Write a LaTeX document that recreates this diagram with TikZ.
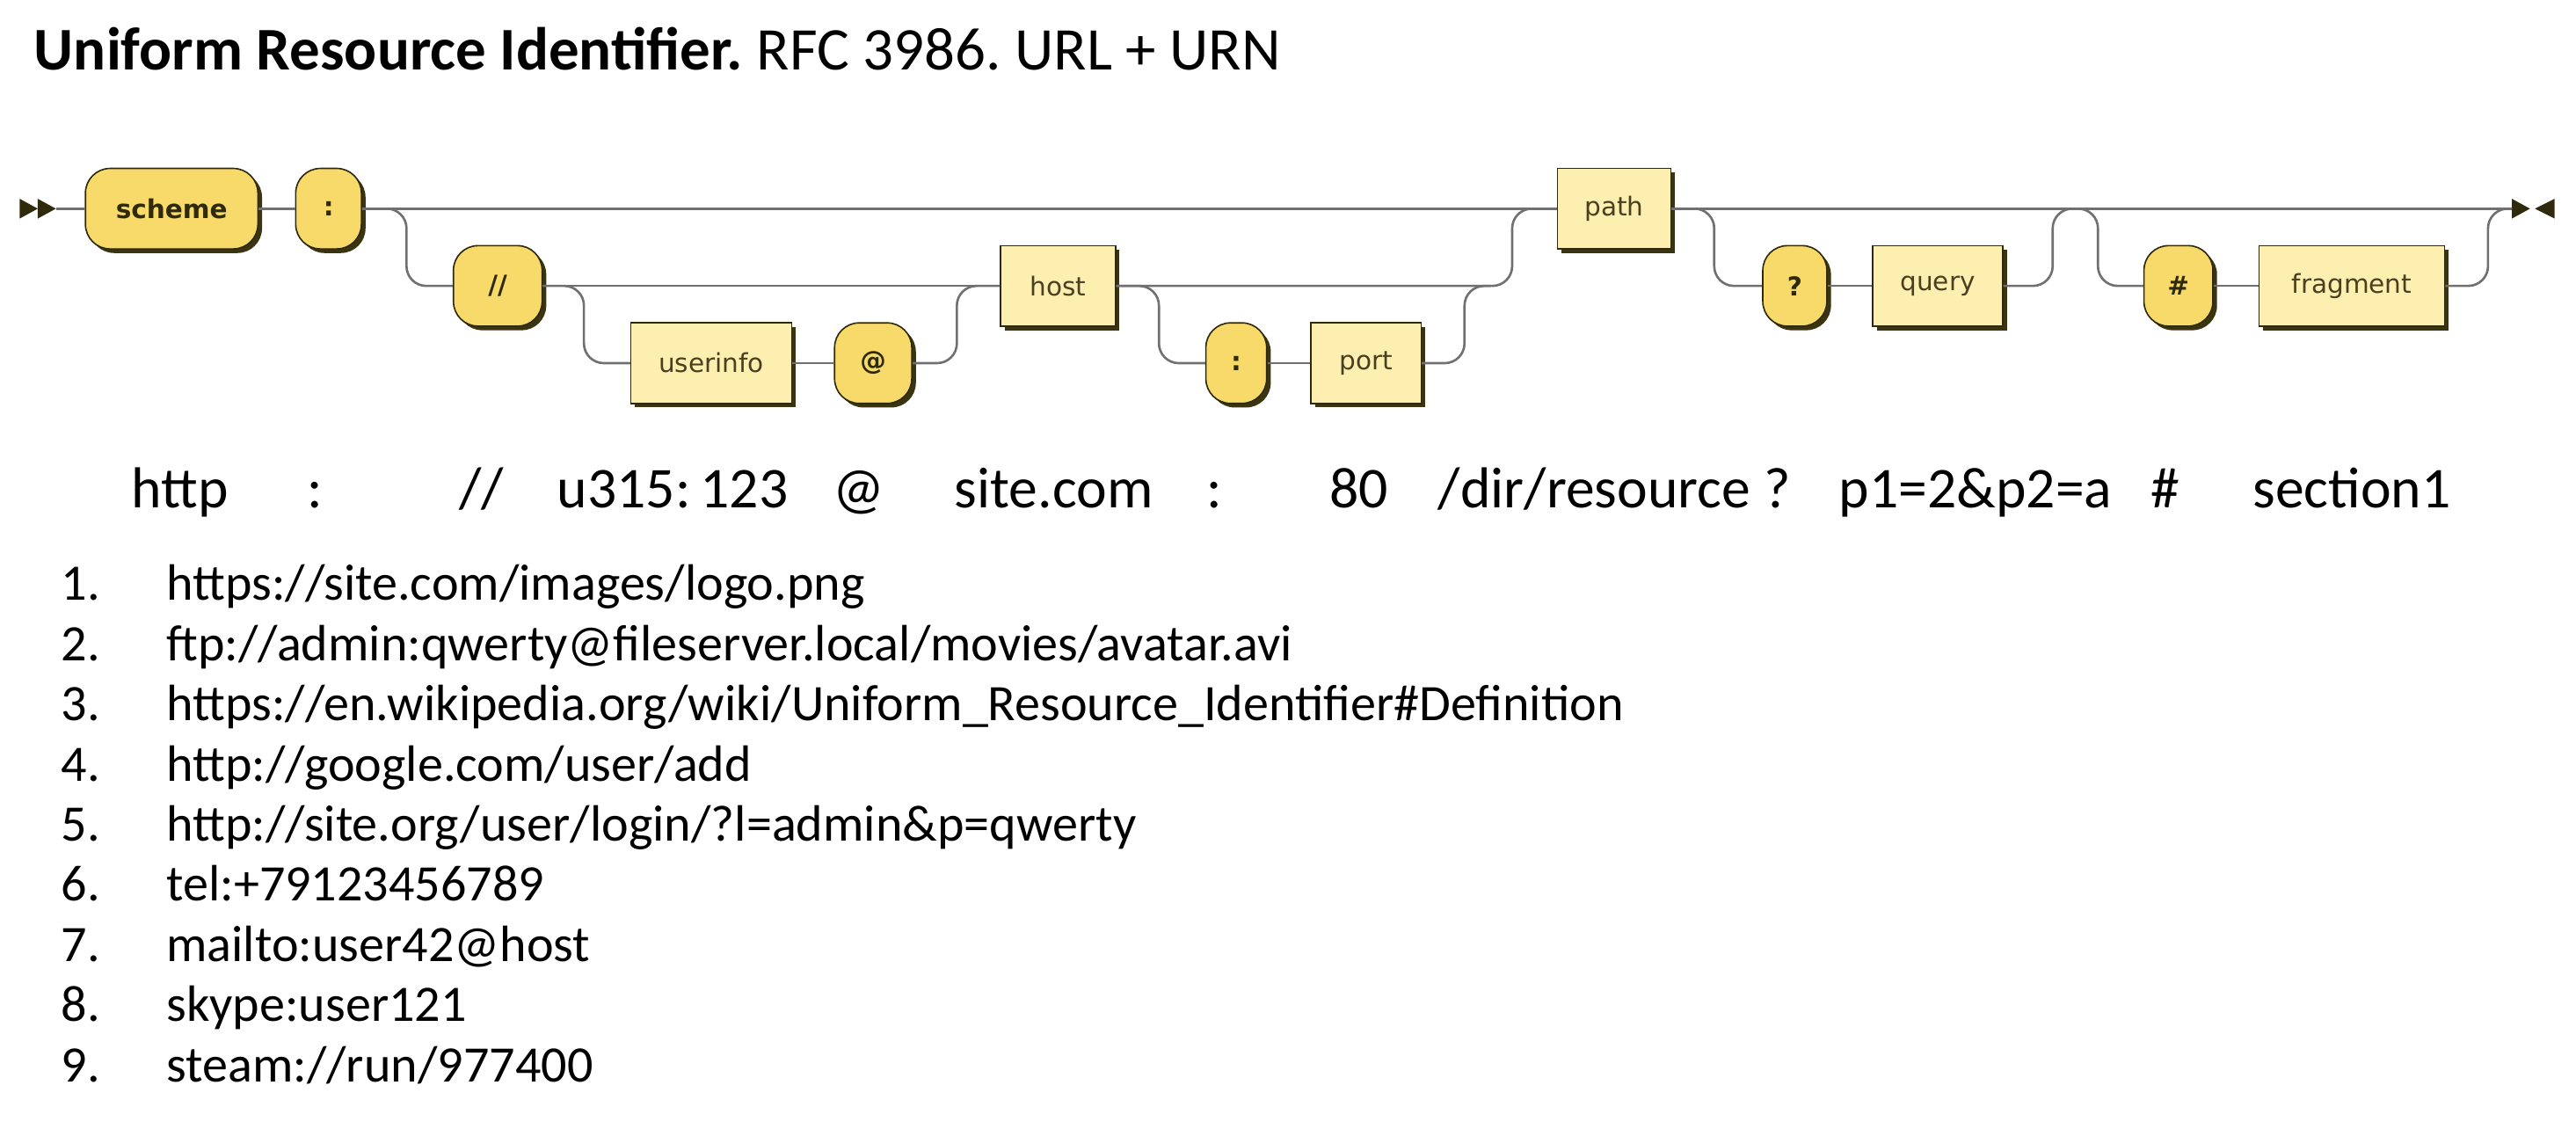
\documentclass[tikz,border=0pt]{standalone}
\usepackage{fontspec}
\setmainfont{Carlito}
\newfontfamily\railfont{DejaVu Sans}
\usepackage{tikz}
\usetikzlibrary{shadows,calc}
\frenchspacing

\definecolor{termfill}{HTML}{F8DA6A}
\definecolor{ntfill}{HTML}{FCEFB0}
\definecolor{boxedge}{HTML}{2F2A0C}
\definecolor{boxshadow}{HTML}{3A3410}
\definecolor{railgray}{HTML}{707070}
\definecolor{labeltext}{HTML}{4A4020}

\begin{document}
\begin{tikzpicture}[x=0.02cm, y=-0.02cm,
	rail/.style={draw=railgray, line width=0.8pt, rounded corners=0.24cm},
	railbox/.style={draw=boxedge, line width=0.5pt, minimum height=0.98cm, inner sep=0pt, drop shadow={shadow xshift=0.05cm, shadow yshift=-0.05cm, fill=boxshadow, opacity=1}},
	term/.style={railbox, fill=termfill, rounded corners=0.3cm, text=boxedge, font=\railfont\bfseries\fontsize{9}{10}\selectfont},
	nonterm/.style={railbox, fill=ntfill, text=labeltext, font=\railfont\fontsize{9}{10}\selectfont},
	endmark/.style={fill=boxedge},
	sample/.style={anchor=base, inner sep=0pt, font=\fontsize{20}{24}\selectfont},
	itemnum/.style={anchor=base west, inner sep=0pt, font=\fontsize{17.7}{21}\selectfont},
	itemtext/.style={anchor=base west, inner sep=0pt, font=\fontsize{17.7}{21}\selectfont}]
	\useasboundingbox (0,0) rectangle (1568,687);
	\node[anchor=base west, inner sep=0pt, font=\fontsize{21}{25}\selectfont] (title) at (20.5,42.8) {\textbf{Uniform Resource Identifier.} RFC 3986. URL + URN};

	\coordinate (start) at (34,127);
	\coordinate (finish) at (1529,127);
	\fill[endmark] (12,121) -- (12,133) -- (23,127) -- cycle;
	\fill[endmark] (23,121) -- (23,133) -- (34,127) -- cycle;
	\fill[endmark] (1529,121) -- (1529,133) -- (1540,127) -- cycle;
	\fill[endmark] (1555,121) -- (1555,133) -- (1543,127) -- cycle;

	\node[term, minimum width=2.1cm] (scheme) at (104.5,127) {scheme};
	\node[term, minimum width=0.8cm] (colon) at (200,127) {:};
	\node[term, minimum width=1.08cm] (slashes) at (303,174) {//};
	\node[nonterm, minimum width=1.96cm] (userinfo) at (433,221) {userinfo};
	\node[term, minimum width=0.94cm] (at) at (531.5,221) {@};
	\node[nonterm, minimum width=1.4cm] (host) at (644,174) {host};
	\node[term, minimum width=0.74cm] (portcolon) at (752.5,221) {:};
	\node[nonterm, minimum width=1.34cm] (port) at (831.5,221) {port};
	\node[nonterm, minimum width=1.38cm] (path) at (982.5,127) {path};
	\node[term, minimum width=0.78cm] (qmark) at (1092.5,174) {?};
	\node[nonterm, minimum width=1.58cm] (query) at (1179.5,174) {query};
	\node[term, minimum width=0.84cm] (hash) at (1326,174) {\#};
	\node[nonterm, minimum width=2.26cm] (fragment) at (1431.5,174) {fragment};
	\coordinate (fragsplit) at (1265,127);

	\draw[rail] (start) -- (scheme.west);
	\draw[rail] (scheme.east) -- (colon.west);
	\draw[rail] (colon.east) -- (path.west);
	\draw[rail] (colon.east) -- ++(27,0) |- (slashes.west);
	\draw[rail] (slashes.east) -- (host.west);
	\draw[rail] (slashes.east) -- ++(25,0) |- (userinfo.west);
	\draw[rail] (userinfo.east) -- (at.west);
	\draw[rail] (at.east) -- ++(27,0) |- (host.west);
	\draw[rail] (host.east) -- ++(241,0) |- (path.west);
	\draw[rail] (host.east) -- ++(26,0) |- (portcolon.west);
	\draw[rail] (portcolon.east) -- (port.west);
	\draw[rail] (port.east) -- ++(26,0) |- ++(16,-47);
	\draw[rail] (path.east) -- (finish);
	\draw[rail] (path.east) -- ++(26,0) |- (qmark.west);
	\draw[rail] (qmark.east) -- (query.west);
	\draw[rail] (query.east) -- ++(30,0) |- ++(16,-47);
	\draw[rail] (fragsplit) -- ++(12,0) |- (hash.west);
	\draw[rail] (hash.east) -- (fragment.west);
	\draw[rail] (fragment.east) -- ++(26,0) |- (finish);

	\node[sample] (exScheme) at (109.5,309) {http};
	\node[sample] (exColon) at (192,309) {:};
	\node[sample] (exSlashes) at (293,309) {//};
	\node[sample] (exUser) at (409.5,309) {u315:\,123};
	\node[sample] (exAt) at (523,309) {@};
	\node[sample] (exHost) at (641.5,309) {site.com};
	\node[sample] (exPortColon) at (739,309) {:};
	\node[sample] (exPort) at (827,309) {80};
	\node[sample] (exPath) at (970.5,309) {/dir/resource};
	\node[sample] (exQmark) at (1082,309) {?};
	\node[sample] (exQuery) at (1202.5,309) {p1=2\&p2=a};
	\node[sample] (exHash) at (1318,309) {\#};
	\node[sample] (exFragment) at (1431.5,309) {section1};

	\node[itemnum] (num1) at (37,365.5) {1.};
	\node[itemtext] (url1) at (101,365.5) {https://site.com/images/logo.png};
	\node[itemnum] (num2) at (37,402.1) {2.};
	\node[itemtext] (url2) at (101,402.1) {ftp://admin:qwerty@fileserver.local/movies/avatar.avi};
	\node[itemnum] (num3) at (37,438.7) {3.};
	\node[itemtext] (url3) at (101,438.7) {https://en.wikipedia.org/wiki/Uniform\_Resource\_Identifier\#Definition};
	\node[itemnum] (num4) at (37,475.3) {4.};
	\node[itemtext] (url4) at (101,475.3) {http://google.com/user/add};
	\node[itemnum] (num5) at (37,511.9) {5.};
	\node[itemtext] (url5) at (101,511.9) {http://site.org/user/login/?l=admin\&p=qwerty};
	\node[itemnum] (num6) at (37,548.5) {6.};
	\node[itemtext] (url6) at (101,548.5) {tel:+79123456789};
	\node[itemnum] (num7) at (37,585.1) {7.};
	\node[itemtext] (url7) at (101,585.1) {mailto:user42@host};
	\node[itemnum] (num8) at (37,621.7) {8.};
	\node[itemtext] (url8) at (101,621.7) {skype:user121};
	\node[itemnum] (num9) at (37,658.3) {9.};
	\node[itemtext] (url9) at (101,658.3) {steam://run/977400};
\end{tikzpicture}
\end{document}
